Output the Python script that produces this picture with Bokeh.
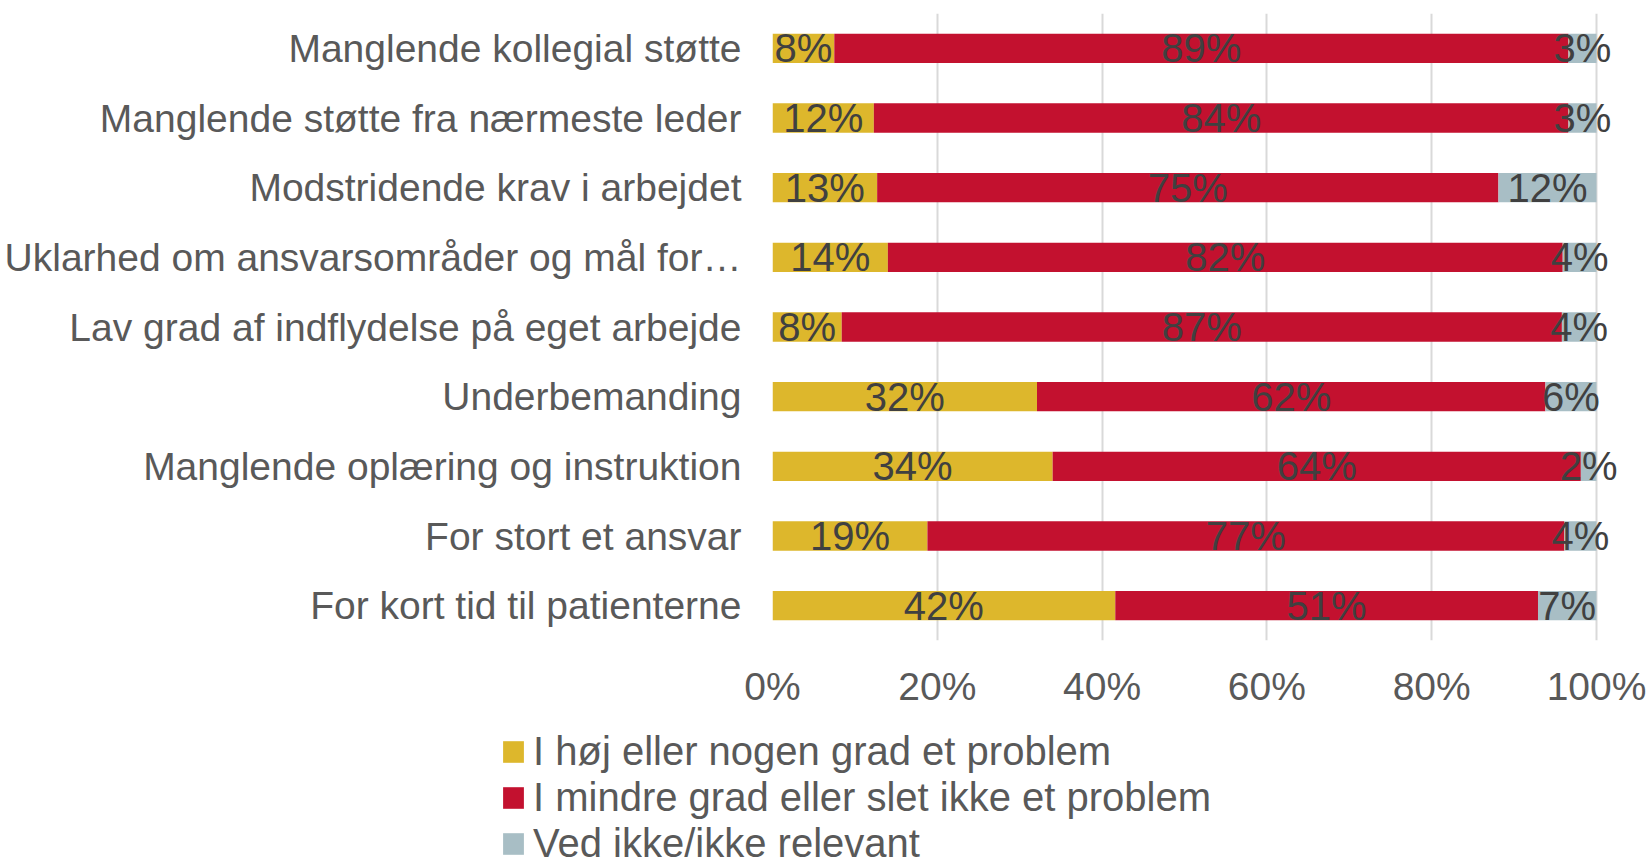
import numpy as np
from bokeh.plotting import figure
from bokeh.layouts import column
from bokeh.models import ColumnDataSource, FactorRange, Range1d, FixedTicker, PrintfTickFormatter, Legend
from bokeh.embed import file_html
from bokeh.resources import INLINE
from bokeh.core.properties import value

categories = [
    "Manglende kollegial støtte",
    "Manglende støtte fra nærmeste leder",
    "Modstridende krav i arbejdet",
    "Uklarhed om ansvarsområder og mål for…",
    "Lav grad af indflydelse på eget arbejde",
    "Underbemanding",
    "Manglende oplæring og instruktion",
    "For stort et ansvar",
    "For kort tid til patienterne",
]
hoj = [7.5, 12.3, 12.7, 14.0, 8.4, 32.1, 34.0, 18.8, 41.6]
mindre = [89.1, 84.3, 75.4, 81.9, 87.4, 61.7, 64.1, 77.3, 51.3]
ved = [3.4, 3.4, 11.9, 4.1, 4.2, 6.2, 1.9, 3.9, 7.1]
series_names = [
    "I høj eller nogen grad et problem",
    "I mindre grad eller slet ikke et problem",
    "Ved ikke/ikke relevant",
]
colors = ["#DDB72C", "#C3112F", "#A8BEC5"]
x_ticks = [0, 20, 40, 60, 80, 100]

FONT = "Liberation Sans"
keys = ["hoj", "mindre", "ved"]

W, H_CHART, H_LEG = 1650, 712, 154
LEFT, PLOT_W = 772, 824          # frame left edge and width of the 0..100 span
x_end = 100 * (W - LEFT) / PLOT_W  # extend frame to the right edge so labels are not clipped

source = ColumnDataSource(dict(cat=categories, hoj=hoj, mindre=mindre, ved=ved))

p = figure(
    width=W, height=H_CHART,
    y_range=FactorRange(*reversed(categories)),
    x_range=Range1d(0, x_end),
    output_backend="svg", toolbar_location=None,
    min_border_left=LEFT, min_border_right=0, min_border_top=13, min_border_bottom=72,
)
p.outline_line_color = None

renderers = p.hbar_stack(keys, y="cat", height=0.42, color=colors, source=source, line_color=None)

# data labels
lx, ly, lt = [], [], []
vals = np.array([hoj, mindre, ved])
cum = np.cumsum(vals, axis=0)
for j in range(3):
    for i, c in enumerate(categories):
        v = vals[j, i]
        lx.append(cum[j, i] - v / 2)
        ly.append(c)
        lt.append(f"{v:.0f}%")
p.text(x="x", y="y", text="t", source=ColumnDataSource(dict(x=lx, y=ly, t=lt)),
       text_align="center", text_baseline="middle", text_font_size="40px",
       text_color="#404040", text_font=value(FONT))

# axes
p.xaxis.ticker = FixedTicker(ticks=x_ticks)
p.xaxis.formatter = PrintfTickFormatter(format="%d%%")
for ax in (p.xaxis, p.yaxis):
    ax.axis_line_color = None
    ax.major_tick_line_color = None
    ax.minor_tick_line_color = None
    ax.major_tick_out = 0
    ax.major_tick_in = 0
    ax.major_label_text_font = FONT
    ax.major_label_text_color = "#595959"
p.xaxis.major_label_text_font_size = "39px"
p.xaxis.major_label_standoff = 24
p.yaxis.major_label_text_font_size = "39px"
p.yaxis.major_label_standoff = 31

p.xgrid.grid_line_color = "#D9D9D9"
p.xgrid.grid_line_width = 2
p.ygrid.grid_line_color = None

# legend panel (separate figure below the chart)
q = figure(
    width=W, height=H_LEG,
    x_range=Range1d(0, 100), y_range=FactorRange(*reversed(categories)),
    output_backend="svg", toolbar_location=None,
    x_axis_location=None, y_axis_location=None,
    min_border=0,
)
for fig in (p, q):
    if "frame_align" in fig.properties():
        fig.frame_align = False
q.outline_line_color = None
q.grid.grid_line_color = None
legend_renderers = q.hbar_stack(keys, y="cat", height=0.42, color=colors, source=source,
                                line_color=None, visible=False)
legend = Legend(
    items=[(name, [r]) for name, r in zip(series_names, legend_renderers)],
    location=(500, 0),
    orientation="vertical",
    glyph_width=26, glyph_height=27,
    label_text_font=FONT, label_text_font_size="40px", label_text_color="#595959",
    label_standoff=7, spacing=1, padding=0, margin=0,
    border_line_color=None, background_fill_alpha=0,
    inactive_fill_alpha=0,
)
q.add_layout(legend, "center")

open("out.html", "w").write(file_html(column(p, q, spacing=0), INLINE))
